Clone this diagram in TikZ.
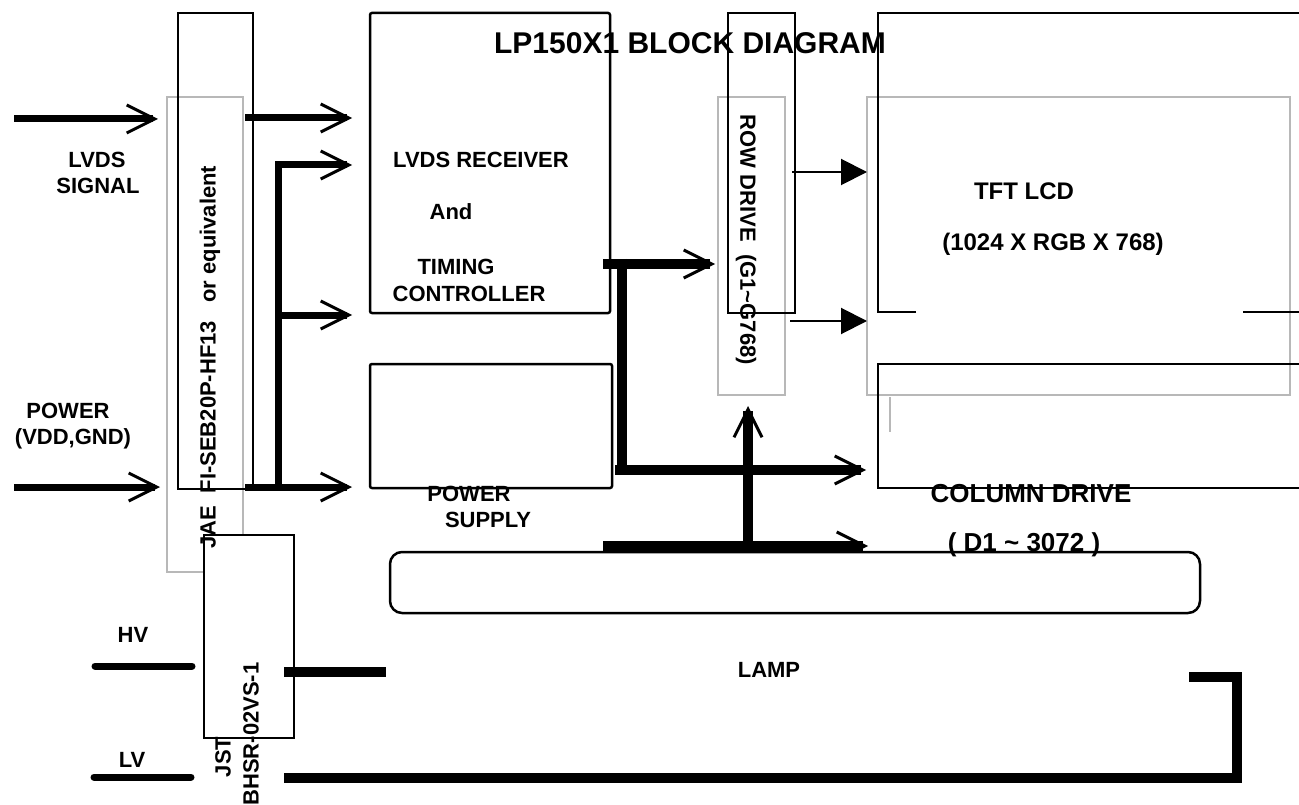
\documentclass[tikz,border=0pt]{standalone}
\usepackage{fontspec}
\setmainfont{Liberation Sans}
\usetikzlibrary{arrows.meta,calc}
\begin{document}
\begin{tikzpicture}[x=1pt,y=-1pt,
 box/.style={draw=black, line width=2.5pt, inner sep=0pt, outer sep=0pt, anchor=north west},
 gbox/.style={draw=black!28, line width=1.6pt, inner sep=0pt, outer sep=0pt, anchor=north west},
 lbl/.style={font=\fontsize{22}{26}\selectfont\bfseries, inner sep=0pt},
 big/.style={font=\fontsize{25}{30}\selectfont\bfseries, inner sep=0pt},
 barb/.style={-{Straight Barb[length=28pt,width=28pt,line width=3pt]}},
 bus/.style={line width=7pt},
 bigbus/.style={line width=10pt},
 thinarr/.style={line width=2pt, -{Triangle[length=26pt,width=26pt]}},
 cable/.style={line width=10pt, line cap=butt, line join=miter},
 wire/.style={line width=7pt, line cap=round},
 ]
\useasboundingbox (0,0) rectangle (1299,805);
\clip (0,0) rectangle (1299,805);

% grey outlines
\node[gbox, minimum width=76pt, minimum height=475pt] (connG) at (167,97) {};
\node[gbox, minimum width=67pt, minimum height=298pt] (rowG) at (718,97) {};
\node[gbox, minimum width=423pt, minimum height=298pt] (tftG) at (867,97) {};
\draw[black!28, line width=1.6pt] (890,397) -- (890,432);

% black boxes
\node[box, minimum width=75pt, minimum height=476pt] (connB) at (178,13) {};
\node[box, rounded corners=2pt, minimum width=240pt, minimum height=300pt] (tcon) at (370,13) {};
\node[box, rounded corners=2pt, minimum width=242pt, minimum height=124pt] (psu) at (370,364) {};
\node[box, minimum width=67pt, minimum height=300pt] (rowB) at (728,13) {};
\node[box, minimum width=450pt, minimum height=124pt] (col) at (878,364) {};
\coordinate (tftTL) at (878,13);
\draw[line width=2.5pt] (916,312) -| (tftTL) -- (1320,13);
\draw[line width=2.5pt] (1243,312) -- (1320,312);

% inputs
\coordinate (lvdsS) at (14,119);
\coordinate (pwrS) at (14,487);
\draw[bus,barb] (lvdsS) -- ($(connG.west |- lvdsS)+(-9,0)$);
\draw[bus,barb] (pwrS) -- ($(connG.west |- pwrS)+(-7,0)$);

% connector to timing controller
\draw[bus,barb] ($(connG.east |- 0,118)+(2,0)$) -- ($(tcon.west |- 0,118)+(-18,0)$);
\draw[bus,barb,line join=miter] (278,487) -- (278,165) -- ($(tcon.west |- 0,165)+(-18,0)$);
\draw[bus,barb] (278,315) -- ($(tcon.west |- 0,315)+(-18,0)$);
\draw[bus,barb] ($(connB.east |- 0,487)+(-8,0)$) -- ($(psu.west |- 0,487)+(-18,0)$);

% timing controller outputs
\draw[bigbus,barb] ($(tcon.east |- 0,264)+(-7,0)$) -- ($(rowG.west |- 0,264)+(-3,0)$);
\draw[bigbus] (622,259) -- (622,470);
\draw[bigbus,barb] (615,470) -- ($(col.west |- 0,470)+(-12,0)$);

% row drive to TFT
\draw[thinarr] ($(rowB.east |- 0,172)+(-3,0)$) -- (tftG.west |- 0,172);
\draw[thinarr] ($(rowG.east |- 0,321)+(5,0)$) -- (tftG.west |- 0,321);

% lamp feed
\coordinate (lampUp) at (748,546);
\draw[line width=11pt,barb] (603,546) -- ($(col.west |- 0,546)+(-10,0)$);
\draw[bigbus,barb] (lampUp) -- ($(lampUp |- rowG.south)+(0,11)$);

% lamp and JST
\node[box, rounded corners=12pt, fill=white, minimum width=810pt, minimum height=61pt] (lamp) at (390,552) {};
\node[box, fill=white, minimum width=90pt, minimum height=203pt] (jst) at (204,535) {};

% lamp wires
\coordinate (hvS) at (95,666);
\coordinate (lvS) at (94,777);
\coordinate (hvE) at (386,672);
\coordinate (lvE) at (1189,677);
\draw[wire] (hvS) -- ($(jst.west |- hvS)+(-12,0)$);
\draw[wire] (lvS) -- ($(jst.west |- lvS)+(-13,0)$);
\draw[cable] ($(jst.east |- hvE)+(-10,0)$) -- (hvE);
\draw[cable] ($(jst.east |- 0,778)+(-10,0)$) -| (1237,677) -- (lvE);

% texts
\node[font=\fontsize{30}{34}\selectfont\bfseries, inner sep=0pt] (title) at (690,43) {LP150X1 BLOCK DIAGRAM};
\node[lbl] (t1) at (97,160) {LVDS};
\node[lbl] (t2) at (98,186) {SIGNAL};
\node[lbl] (t3) at (68,411) {POWER};
\node[lbl] (t4) at (73,439) {(VDD,GND)};
\node[lbl] (t5) at (481,160) {LVDS RECEIVER};
\node[lbl] (t6) at (451,212) {And};
\node[lbl] (t7) at (456,267) {TIMING};
\node[lbl] (t8) at (469,294) {CONTROLLER};
\node[lbl] (t9) at (469,494) {POWER};
\node[lbl] (t10) at (488,520) {SUPPLY};
\node[big, font=\fontsize{24}{28}\selectfont\bfseries] (t11) at (1024,191) {TFT LCD};
\node[big, font=\fontsize{24}{28}\selectfont\bfseries] (t12) at (1053,244) {(1024 X RGB X 768)};
\node[big, font=\fontsize{26}{30}\selectfont\bfseries] (t13) at (1031,494) {COLUMN DRIVE};
\node[big, font=\fontsize{26}{30}\selectfont\bfseries] (t14) at (1024,545) {( D1 \textasciitilde{} 3072 )};
\node[lbl] (t15) at (769,670) {LAMP};
\node[lbl] (t16) at (133,635) {HV};
\node[lbl] (t17) at (132,760) {LV};
\node[lbl, rotate=90] (t18) at (210,357) {JAE\ \ FI-SEB20P-HF13\ \ \ or equivalent};
\node[lbl, rotate=-90] (t19) at (746,240) {ROW DRIVE\ \ (G1\textasciitilde G768)};
\node[lbl, rotate=90] (t20) at (223,757) {JST};
\node[lbl, rotate=90] (t21) at (251,734) {BHSR-02VS-1};
\end{tikzpicture}
\end{document}
